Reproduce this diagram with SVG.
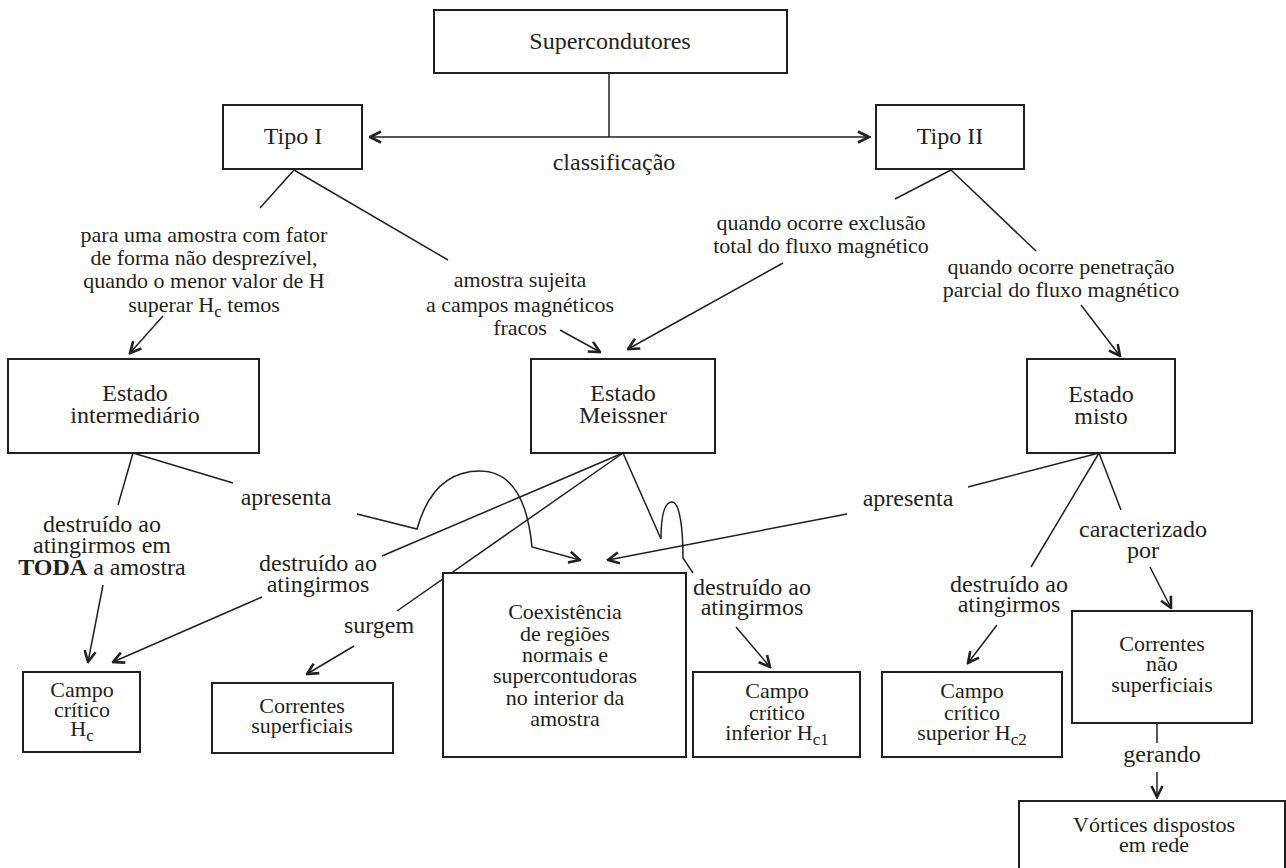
<svg xmlns="http://www.w3.org/2000/svg" width="1286" height="868" viewBox="0 0 1286 868">
<style>
  .box { fill: #ffffff; stroke: #231f20; stroke-width: 2; }
  .ln { fill: none; stroke: #231f20; stroke-width: 1.5; }
  .ar { fill: none; stroke: #231f20; stroke-width: 1.5; marker-end: url(#arr); }
  text { font-family: "Liberation Serif", "Times New Roman", serif; fill: #231f20; text-anchor: middle; }
  .n24 { font-size: 24px; }
  .n22 { font-size: 22px; }
  .l22 { font-size: 22px; }
  .l24 { font-size: 24px; }
  .sub { font-size: 17px; }
</style>
<defs>
  <marker id="arr" viewBox="0 0 14 14" refX="12.5" refY="7" markerWidth="14" markerHeight="14" markerUnits="userSpaceOnUse" orient="auto-start-reverse">
    <path d="M1.5,1.5 L12.5,7 L1.5,12.5" fill="none" stroke="#231f20" stroke-width="2.6"/>
  </marker>
</defs>
<rect x="0" y="0" width="1286" height="868" fill="#ffffff"/>

<g id="connectors">
  <line class="ln" x1="609" y1="73" x2="609" y2="137"/>
  <line class="ln" x1="370" y1="137" x2="869" y2="137" style="marker-start:url(#arr);marker-end:url(#arr)"/>
  <line class="ln" x1="294" y1="170" x2="260" y2="208"/>
  <line class="ln" x1="294" y1="170" x2="448" y2="260"/>
  <line class="ar" x1="163" y1="316" x2="130" y2="353"/>
  <line class="ar" x1="560" y1="330" x2="600" y2="352"/>
  <line class="ln" x1="951" y1="170" x2="895" y2="199"/>
  <line class="ln" x1="951" y1="170" x2="1036" y2="251"/>
  <line class="ar" x1="783" y1="263" x2="628" y2="349"/>
  <line class="ar" x1="1081" y1="305" x2="1120" y2="356"/>
  <line class="ln" x1="133" y1="453" x2="118" y2="505"/>
  <line class="ln" x1="133" y1="453" x2="233" y2="483"/>
  <line class="ar" x1="103" y1="585" x2="88" y2="662"/>
  <path class="ar" d="M357,514 L417,529 C428,490 450,471 480,471 C515,471 528,505 532,547 L580,560"/>
  <line class="ln" x1="623" y1="453" x2="382" y2="556"/>
  <line class="ar" x1="262" y1="597" x2="113" y2="662"/>
  <line class="ln" x1="623" y1="453" x2="397" y2="611"/>
  <line class="ar" x1="354" y1="646" x2="307" y2="674"/>
  <path class="ln" d="M623,453 L661,539 C661,510 666,502 672,502 C680,502 683,530 683,558 L693,573"/>
  <line class="ar" x1="736" y1="627" x2="770" y2="667"/>
  <line class="ln" x1="1099" y1="453" x2="968" y2="487"/>
  <line class="ar" x1="847" y1="514" x2="608" y2="560"/>
  <line class="ln" x1="1099" y1="453" x2="1031" y2="567"/>
  <line class="ar" x1="997" y1="625" x2="968" y2="663"/>
  <line class="ln" x1="1099" y1="453" x2="1121" y2="510"/>
  <line class="ar" x1="1150" y1="567" x2="1171" y2="608"/>
  <line class="ln" x1="1157" y1="723" x2="1157" y2="743"/>
  <line class="ar" x1="1157" y1="772" x2="1157" y2="797"/>
</g>

<g id="labels">
  <text class="l24" x="614" y="170">classificação</text>
  <text class="l22" x="204" y="242">para uma amostra com fator</text>
  <text class="l22" x="204" y="265">de forma não desprezível,</text>
  <text class="l22" x="204" y="288">quando o menor valor de H</text>
  <text class="l22" x="204" y="312">superar H<tspan class="sub" dy="5">c</tspan><tspan dy="-5"> temos</tspan></text>
  <text class="l22" x="520" y="287">amostra sujeita</text>
  <text class="l22" x="520" y="312">a campos magnéticos</text>
  <text class="l22" x="520" y="335">fracos</text>
  <text class="l22" x="821" y="230">quando ocorre exclusão</text>
  <text class="l22" x="821" y="253">total do fluxo magnético</text>
  <text class="l22" x="1061" y="274">quando ocorre penetração</text>
  <text class="l22" x="1061" y="297">parcial do fluxo magnético</text>
  <text class="l24" x="286" y="505">apresenta</text>
  <text class="l24" x="102" y="532">destruído ao</text>
  <text class="l24" x="102" y="553">atingirmos em</text>
  <text class="l24" x="102" y="575"><tspan font-weight="bold">TODA</tspan> a amostra</text>
  <text class="l24" x="318" y="571">destruído ao</text>
  <text class="l24" x="318" y="592">atingirmos</text>
  <text class="l24" x="379" y="633">surgem</text>
  <text class="l24" x="752" y="595">destruído ao</text>
  <text class="l24" x="752" y="615">atingirmos</text>
  <text class="l24" x="908" y="506">apresenta</text>
  <text class="l24" x="1009" y="592">destruído ao</text>
  <text class="l24" x="1009" y="612">atingirmos</text>
  <text class="l24" x="1143" y="537">caracterizado</text>
  <text class="l24" x="1143" y="558">por</text>
  <text class="l24" x="1162" y="762">gerando</text>
</g>

<g id="supercondutores">
  <rect class="box" x="434" y="10" width="353" height="63"/>
  <text class="n24" x="610" y="49">Supercondutores</text>
</g>
<g id="tipo-i">
  <rect class="box" x="223" y="105" width="139" height="64"/>
  <text class="n24" x="293" y="144">Tipo I</text>
</g>
<g id="tipo-ii">
  <rect class="box" x="876" y="105" width="148" height="64"/>
  <text class="n24" x="950" y="144">Tipo II</text>
</g>
<g id="estado-intermediario">
  <rect class="box" x="8" y="359" width="251" height="94"/>
  <text class="n24" x="135" y="401">Estado</text>
  <text class="n24" x="135" y="423">intermediário</text>
</g>
<g id="estado-meissner">
  <rect class="box" x="531" y="359" width="184" height="94"/>
  <text class="n24" x="623" y="401">Estado</text>
  <text class="n24" x="623" y="423">Meissner</text>
</g>
<g id="estado-misto">
  <rect class="box" x="1027" y="359" width="148" height="94"/>
  <text class="n24" x="1101" y="402">Estado</text>
  <text class="n24" x="1101" y="424">misto</text>
</g>
<g id="campo-critico-hc">
  <rect class="box" x="23" y="672" width="117" height="80"/>
  <text class="n22" x="82" y="697">Campo</text>
  <text class="n22" x="82" y="717">crítico</text>
  <text class="n22" x="82" y="736">H<tspan class="sub" dy="5">c</tspan></text>
</g>
<g id="correntes-superficiais">
  <rect class="box" x="212" y="683" width="181" height="70"/>
  <text class="n22" x="302" y="713">Correntes</text>
  <text class="n22" x="302" y="733">superficiais</text>
</g>
<g id="coexistencia">
  <rect class="box" x="443" y="573" width="243" height="184"/>
  <text class="n22" x="565" y="619">Coexistência</text>
  <text class="n22" x="565" y="641">de regiões</text>
  <text class="n22" x="565" y="662">normais e</text>
  <text class="n22" x="565" y="683">supercontudoras</text>
  <text class="n22" x="565" y="705">no interior da</text>
  <text class="n22" x="565" y="726">amostra</text>
</g>
<g id="campo-critico-hc1">
  <rect class="box" x="693" y="672" width="167" height="85"/>
  <text class="n22" x="777" y="698">Campo</text>
  <text class="n22" x="777" y="720">crítico</text>
  <text class="n22" x="777" y="740">inferior H<tspan class="sub" dy="5">c1</tspan></text>
</g>
<g id="campo-critico-hc2">
  <rect class="box" x="882" y="672" width="180" height="85"/>
  <text class="n22" x="972" y="698">Campo</text>
  <text class="n22" x="972" y="720">crítico</text>
  <text class="n22" x="972" y="740">superior H<tspan class="sub" dy="5">c2</tspan></text>
</g>
<g id="correntes-nao-superficiais">
  <rect class="box" x="1072" y="611" width="180" height="112"/>
  <text class="n22" x="1162" y="651">Correntes</text>
  <text class="n22" x="1162" y="671">não</text>
  <text class="n22" x="1162" y="692">superficiais</text>
</g>
<g id="vortices">
  <rect class="box" x="1019" y="801" width="266" height="80"/>
  <text class="n22" x="1154" y="832">Vórtices dispostos</text>
  <text class="n22" x="1154" y="852">em rede</text>
</g>
</svg>
